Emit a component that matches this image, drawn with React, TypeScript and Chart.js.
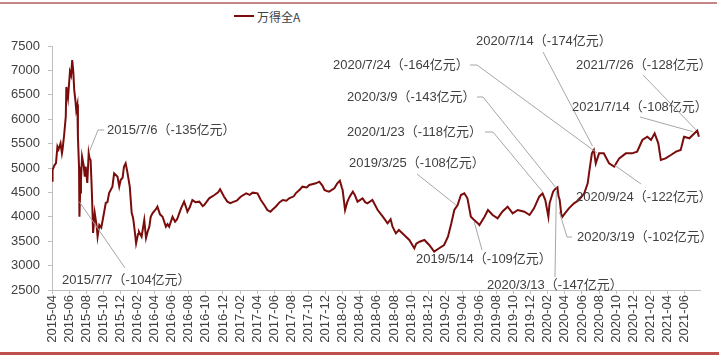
import React, { useEffect, useRef } from 'react';
import { Chart, registerables } from 'chart.js';

Chart.register(...registerables);

const seriesName = '万得全A';

const dates = [
  '2015-04-01','2015-04-03','2015-04-09','2015-04-15','2015-04-20','2015-04-24','2015-05-01','2015-05-06','2015-05-08','2015-05-14',
  '2015-05-20','2015-05-22','2015-05-28','2015-06-04','2015-06-08','2015-06-12','2015-06-16','2015-06-19','2015-06-23','2015-06-26',
  '2015-06-30','2015-07-02','2015-07-06','2015-07-07','2015-07-08','2015-07-10','2015-07-13','2015-07-17','2015-07-23','2015-07-27',
  '2015-07-30','2015-08-05','2015-08-10','2015-08-13','2015-08-17','2015-08-21','2015-08-24','2015-08-26','2015-09-01','2015-09-08',
  '2015-09-11','2015-09-17','2015-09-24','2015-09-29','2015-10-10','2015-10-16','2015-10-22','2015-11-03','2015-11-09','2015-11-16',
  '2015-11-21','2015-11-27','2015-12-02','2015-12-09','2015-12-14','2015-12-20','2015-12-26','2016-01-04','2016-01-11','2016-01-15',
  '2016-01-18','2016-01-23','2016-01-27','2016-02-03','2016-02-06','2016-02-15','2016-02-24','2016-03-01','2016-03-07','2016-03-13',
  '2016-03-18','2016-03-25','2016-04-05','2016-04-11','2016-04-20','2016-04-29','2016-05-11','2016-05-17','2016-05-23','2016-06-04',
  '2016-06-13','2016-06-20','2016-07-04','2016-07-15','2016-07-22','2016-07-27','2016-08-05','2016-08-14','2016-08-25','2016-09-08',
  '2016-09-20','2016-09-25','2016-10-13','2016-11-01','2016-11-14','2016-11-21','2016-12-05','2016-12-17','2016-12-28','2017-01-10',
  '2017-01-20','2017-02-03','2017-02-21','2017-03-05','2017-03-16','2017-04-02','2017-04-14','2017-04-26','2017-05-07','2017-05-18',
  '2017-05-26','2017-06-06','2017-06-20','2017-07-01','2017-07-14','2017-07-24','2017-08-10','2017-08-17','2017-09-01','2017-09-10',
  '2017-09-25','2017-10-04','2017-10-28','2017-11-09','2017-11-20','2017-11-27','2017-12-06','2017-12-14','2018-01-02','2018-01-12',
  '2018-01-22','2018-01-29','2018-02-01','2018-02-09','2018-02-16','2018-02-24','2018-03-07','2018-03-14','2018-03-24','2018-04-11',
  '2018-04-20','2018-04-28','2018-05-16','2018-06-04','2018-06-22','2018-07-09','2018-07-20','2018-07-27','2018-08-08','2018-08-19',
  '2018-09-07','2018-09-25','2018-10-13','2018-10-20','2018-11-01','2018-11-18','2018-12-05','2018-12-23','2019-01-10','2019-01-28',
  '2019-02-10','2019-02-21','2019-03-03','2019-03-15','2019-03-27','2019-04-08','2019-04-19','2019-05-01','2019-05-13','2019-05-24',
  '2019-06-01','2019-06-19','2019-07-01','2019-07-18','2019-08-05','2019-08-22','2019-09-10','2019-09-28','2019-10-16','2019-11-09',
  '2019-11-27','2019-12-13','2020-01-01','2020-01-07','2020-01-13','2020-01-23','2020-02-03','2020-02-07','2020-02-19','2020-02-25',
  '2020-03-05','2020-03-09','2020-03-13','2020-03-19','2020-03-23','2020-04-01','2020-04-15','2020-05-03','2020-05-21','2020-06-09',
  '2020-06-21','2020-06-29','2020-07-06','2020-07-13','2020-07-20','2020-08-01','2020-08-18','2020-09-06','2020-09-24','2020-10-12',
  '2020-11-05','2020-11-27','2020-12-15','2021-01-03','2021-01-21','2021-02-03','2021-02-15','2021-02-27','2021-03-08','2021-03-25',
  '2021-04-13','2021-05-01','2021-05-18','2021-05-30','2021-06-18','2021-07-06','2021-07-16','2021-07-22',
];

const values = [
  4740, 4960, 5050, 5100, 5437, 5380, 5506, 5300, 5369, 5676,
  6051, 6660, 6434, 6973, 6900, 7213, 6950, 6600, 6393, 6189,
  6300, 5642, 5027, 4617, 4002, 4500, 4754, 5232, 5050, 4822,
  5027, 4693, 5300, 5200, 5164, 4600, 4078, 3668, 4078, 3800,
  3593, 3832, 3780, 3935, 4283, 4300, 4488, 4617, 4890, 4850,
  4822, 4620, 4754, 4800, 5027, 5096, 4925, 4617, 4078, 4000,
  3900, 3661, 3457, 3650, 3695, 3593, 3935, 3566, 3700, 3798,
  4000, 4078, 4150, 4207, 4050, 4002, 3798, 3850, 3798, 4002,
  3900, 3950, 4174, 4310, 4200, 4105, 4200, 4344, 4300, 4310,
  4220, 4242, 4379, 4447, 4500, 4563, 4412, 4310, 4280, 4310,
  4330, 4412, 4481, 4450, 4495, 4481, 4344, 4242, 4139, 4105,
  4150, 4207, 4300, 4344, 4330, 4379, 4420, 4481, 4560, 4617,
  4600, 4652, 4686, 4720, 4640, 4549, 4530, 4515, 4583, 4680,
  4740, 4600, 4549, 4139, 4300, 4412, 4515, 4450, 4310, 4379,
  4300, 4276, 4344, 4139, 4002, 3867, 3950, 3798, 3661, 3730,
  3628, 3525, 3355, 3450, 3490, 3525, 3423, 3285, 3355, 3423,
  3593, 3867, 4139, 4242, 4447, 4481, 4379, 4002, 3935, 3880,
  3832, 4002, 4139, 4037, 3969, 4105, 4207, 4071, 4139, 4105,
  4037, 4174, 4412, 4447, 4480, 4344, 4002, 4276, 4515, 4560,
  4604, 4420, 4350, 4050, 4000, 4071, 4174, 4276, 4344, 4481,
  4686, 5027, 5300, 5369, 5096, 5300, 5300, 5096, 5027, 5198,
  5300, 5300, 5335, 5574, 5642, 5574, 5711, 5506, 5164, 5198,
  5266, 5335, 5369, 5642, 5608, 5711, 5765, 5642,
];

const xTickLabels = [
  '2015-04','2015-06','2015-08','2015-10','2015-12',
  '2016-02','2016-04','2016-06','2016-08','2016-10','2016-12',
  '2017-02','2017-04','2017-06','2017-08','2017-10','2017-12',
  '2018-02','2018-04','2018-06','2018-08','2018-10','2018-12',
  '2019-02','2019-04','2019-06','2019-08','2019-10','2019-12',
  '2020-02','2020-04','2020-06','2020-08','2020-10','2020-12',
  '2021-02','2021-04','2021-06',
];

const yMin = 2500;
const yMax = 7500;
const yStep = 500;
const xEnd = '2021-07-26';

const annotationTexts = [
  '2015/7/6（-135亿元）',
  '2015/7/7（-104亿元）',
  '2019/3/25（-108亿元）',
  '2019/5/14（-109亿元）',
  '2020/1/23（-118亿元）',
  '2020/3/9（-143亿元）',
  '2020/3/13（-147亿元）',
  '2020/3/19（-102亿元）',
  '2020/7/24（-164亿元）',
  '2020/7/14（-174亿元）',
  '2020/9/24（-122亿元）',
  '2021/7/14（-108亿元）',
  '2021/7/26（-128亿元）',
];
// where each leader line touches the curve
const annotationDates = [
  '2015-08-12', '2015-07-07', '2019-03-09', '2019-05-13', '2020-01-13', '2020-03-01', '2020-03-01',
  '2020-03-12', '2020-07-25', '2020-07-08', '2020-09-24', '2021-06-30', '2021-07-12',
];
const annotationValues = [5330, 4310, 4242, 3900, 4515, 4584, 4530, 4099, 5308, 5451, 5062, 5744, 5779];

// label placement (pixels)
const annotationLayout: { tx: number; ty: number; path: number[][] }[] = [
  { tx: 107, ty: 130, path: [[104, 130], [98, 130]] },
  { tx: 62, ty: 280, path: [[125, 268]] },
  { tx: 349, ty: 163, path: [[417, 174]] },
  { tx: 416, ty: 259, path: [[482, 250]] },
  { tx: 347, ty: 132, path: [[485, 132], [493, 132]] },
  { tx: 347, ty: 97, path: [[477, 97], [483, 97]] },
  { tx: 487, ty: 285, path: [[555, 277]] },
  { tx: 577, ty: 237, path: [[572, 237], [567, 237]] },
  { tx: 333, ty: 65, path: [[470, 65], [477, 65]] },
  { tx: 476, ty: 41, path: [[543, 52]] },
  { tx: 576, ty: 197, path: [[641, 184]] },
  { tx: 572, ty: 107, path: [[640, 117]] },
  { tx: 576, ty: 65, path: [[643, 75]] },
];

function monthIndex(s: string): number {
  const [y, m, d] = s.split('-').map(Number);
  const dim = new Date(y, m, 0).getDate();
  return (y - 2015) * 12 + (m - 4) + ((d || 1) - 1) / dim;
}

const LINE_COLOR = '#7a0c0c';
const TEXT_COLOR = '#404040';
const AXIS_COLOR = '#bfbfbf';
const FONT_FAMILY = '"Liberation Sans", Arial, "Noto Sans CJK SC", sans-serif';

const leaderPlugin = {
  id: 'leaderLabels',
  afterDatasetsDraw(chart: any) {
    const { ctx } = chart;
    const xs = chart.scales.x;
    const ys = chart.scales.y;
    ctx.save();
    annotationTexts.forEach((t, i) => {
      const L = annotationLayout[i];
      const px = xs.getPixelForValue(monthIndex(annotationDates[i]));
      const py = ys.getPixelForValue(annotationValues[i]);
      ctx.beginPath();
      ctx.strokeStyle = '#a6a6a6';
      ctx.lineWidth = 1;
      ctx.moveTo(L.path[0][0], L.path[0][1]);
      for (let k = 1; k < L.path.length; k++) ctx.lineTo(L.path[k][0], L.path[k][1]);
      ctx.lineTo(px, py);
      ctx.stroke();
      ctx.fillStyle = TEXT_COLOR;
      ctx.font = '13px ' + FONT_FAMILY;
      ctx.textBaseline = 'middle';
      ctx.textAlign = 'left';
      ctx.fillText(t, L.tx, L.ty);
    });
    ctx.restore();
  },
};

export default function App() {
  const ref = useRef<HTMLCanvasElement | null>(null);

  useEffect(() => {
    if (!ref.current) return;
    const points = dates.map((d, i) => ({ x: monthIndex(d), y: values[i] }));
    const chart = new Chart(ref.current, {
      type: 'line',
      data: {
        datasets: [
          {
            label: seriesName,
            data: points,
            borderColor: LINE_COLOR,
            backgroundColor: LINE_COLOR,
            borderWidth: 2,
            pointRadius: 0,
            tension: 0,
          },
        ],
      },
      options: {
        animation: false,
        responsive: false,
        devicePixelRatio: 1,
        layout: { padding: { top: 46, right: 19, left: 0, bottom: 0 } },
        plugins: { legend: { display: false }, tooltip: { enabled: false } },
        scales: {
          x: {
            type: 'linear',
            min: 0,
            max: monthIndex(xEnd),
            afterBuildTicks: (scale: any) => {
              scale.ticks = xTickLabels.map((_, i) => ({ value: i * 2 }));
            },
            afterFit: (scale: any) => {
              scale.height = 68;
            },
            ticks: {
              autoSkip: false,
              maxRotation: 90,
              minRotation: 90,
              padding: 1,
              color: TEXT_COLOR,
              font: { size: 13, family: FONT_FAMILY },
              callback: (v: any) => xTickLabels[Math.round(Number(v) / 2)] ?? '',
            },
            grid: { drawOnChartArea: false, drawTicks: true, tickLength: 4, color: AXIS_COLOR },
            border: { display: true, color: AXIS_COLOR },
          },
          y: {
            min: yMin,
            max: yMax,
            afterFit: (scale: any) => {
              scale.width = 52;
            },
            ticks: {
              stepSize: yStep,
              padding: 8,
              color: TEXT_COLOR,
              font: { size: 13, family: FONT_FAMILY },
              callback: (v: any) => String(v),
            },
            grid: { drawOnChartArea: false, drawTicks: true, tickLength: 4, color: AXIS_COLOR },
            border: { display: true, color: AXIS_COLOR },
          },
        },
      },
      plugins: [leaderPlugin],
    });
    return () => chart.destroy();
  }, []);

  return (
    <div style={{ position: 'fixed', left: 0, top: 0, width: 719, height: 358, background: '#fff', overflow: 'hidden' }}>
      <div style={{ position: 'absolute', left: 0, top: 2, width: 717, height: 2, background: '#c48585' }} />
      <div style={{ position: 'absolute', left: 0, top: 352, width: 719, height: 3, background: '#c0504d' }} />
      <div
        style={{
          position: 'absolute',
          left: 234,
          top: 8,
          height: 16,
          display: 'flex',
          alignItems: 'center',
          fontFamily: '"Noto Sans CJK SC", sans-serif',
          fontSize: 12,
          color: TEXT_COLOR,
          whiteSpace: 'nowrap',
        }}
      >
        <span style={{ display: 'inline-block', width: 20, height: 2, background: LINE_COLOR, marginRight: 3 }} />
        <span>{seriesName}</span>
      </div>
      <canvas ref={ref} width={719} height={358} style={{ position: 'absolute', left: 0, top: 0 }} />
    </div>
  );
}
